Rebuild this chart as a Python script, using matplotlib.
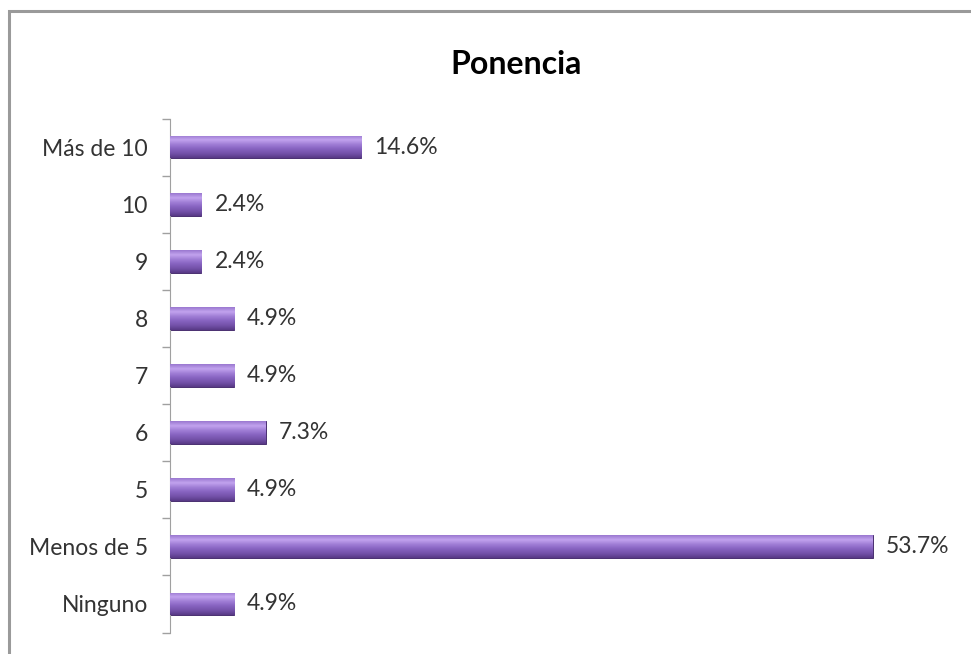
import numpy as np
import matplotlib.pyplot as plt
from matplotlib.patches import Rectangle
from matplotlib.colors import LinearSegmentedColormap

# data (top to bottom as shown)
categories = ["Más de 10", "10", "9", "8", "7", "6", "5", "Menos de 5", "Ninguno"]
values = [14.6, 2.4, 2.4, 4.9, 4.9, 7.3, 4.9, 53.7, 4.9]
labels = ["14.6%", "2.4%", "2.4%", "4.9%", "4.9%", "7.3%", "4.9%", "53.7%", "4.9%"]

plt.rcParams['font.family'] = ['Lato', 'DejaVu Sans']

W, H = 971, 654
fig = plt.figure(figsize=(W / 100, H / 100), dpi=100)
ax = fig.add_axes([170 / W, 1 - 632.5 / H, (955 - 170) / W, (632.5 - 118.5) / H])

n = len(categories)
y = np.arange(n)[::-1]
bars = ax.barh(y, values, height=0.4, color='#7e5fb3', edgecolor='#4a3070', lw=0.7, zorder=2)

# bevel-ish vertical gradient on each bar
cmap = LinearSegmentedColormap.from_list(
    "bev", ["#583a86", "#7452aa", "#8763c0", "#a07ed6", "#c2a3ee", "#9a78d0"])
grad = np.linspace(0, 1, 64).reshape(-1, 1)
for b in bars:
    x0, y0 = b.get_x(), b.get_y()
    im = ax.imshow(grad, aspect='auto', cmap=cmap, origin='lower',
                   extent=[x0, x0 + b.get_width(), y0, y0 + b.get_height()], zorder=3)
    im.set_clip_path(b)

for yi, v, t in zip(y, values, labels):
    ax.text(v + 1.0, yi, t, va='center', ha='left', fontsize=16.5, color='#333333')

ax.set_xlim(0, 60)
ax.set_ylim(-0.5, n - 0.5)
ax.set_yticks(y)
ax.set_yticklabels(categories, fontsize=16.5, color='#333333')
ax.tick_params(axis='y', which='major', length=0, pad=16)
ax.set_yticks(np.arange(n + 1) - 0.5, minor=True)
ax.tick_params(axis='y', which='minor', length=6, color='#a0a0a0', width=1)
ax.set_xticks([])
for s in ['top', 'right', 'bottom']:
    ax.spines[s].set_visible(False)
ax.spines['left'].set_color('#a0a0a0')

fig.text(516 / W, 1 - 65 / H, "Ponencia", ha='center', va='center',
         fontsize=23, fontweight='bold', color='black')

# outer frame, cut off on the right and bottom
fig.patches.append(Rectangle((9 / W, -0.1), 2, 1 - 11 / H + 0.1, transform=fig.transFigure,
                             fill=False, edgecolor='#9a9a9a', lw=2.2))

plt.savefig('out.png', dpi=100)
